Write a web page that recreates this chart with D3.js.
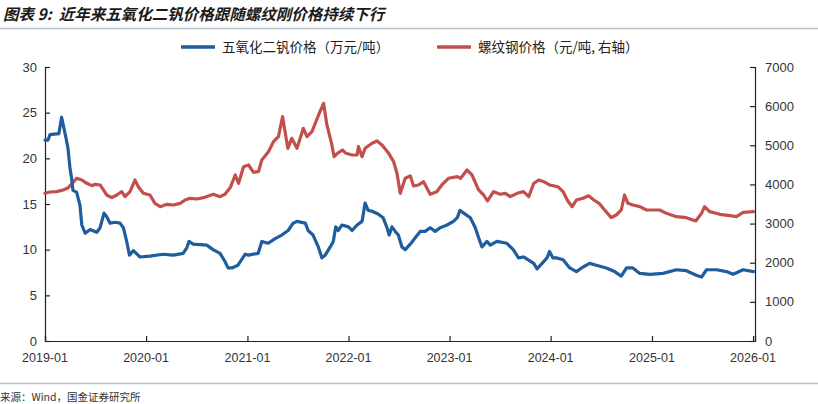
<!DOCTYPE html>
<html><head><meta charset="utf-8">
<script src="https://cdn.jsdelivr.net/npm/d3@7"></script>
<style>
html,body{margin:0;padding:0;background:#fff;}
svg{display:block;}
</style></head>
<body>
<svg id="c" width="818" height="404"></svg>
<script>
// ---- data ----
const titleText = "图表 9:  近年来五氧化二钒价格跟随螺纹刚价格持续下行";
const sourceText = "来源：Wind，国金证券研究所";
const seriesNames = ["五氧化二钒价格（万元/吨）", "螺纹钢价格（元/吨, 右轴）"];
const xTickLabels = ["2019-01","2020-01","2021-01","2022-01","2023-01","2024-01","2025-01","2026-01"];
const leftTicks = [0,5,10,15,20,25,30];
const rightTicks = [0,1000,2000,3000,4000,5000,6000,7000];

const v2o5Dates = ["2019-01-01","2019-01-12","2019-01-19","2019-02-20","2019-03-02","2019-03-18","2019-03-25","2019-04-01","2019-04-07","2019-04-12","2019-04-25","2019-05-07","2019-05-14","2019-05-26","2019-06-13","2019-07-07","2019-07-19","2019-08-02","2019-08-12","2019-08-24","2019-09-11","2019-09-29","2019-10-11","2019-10-23","2019-11-02","2019-11-16","2019-12-10","2020-01-15","2020-03-02","2020-04-08","2020-05-14","2020-05-27","2020-06-04","2020-06-19","2020-08-07","2020-08-30","2020-09-24","2020-10-12","2020-10-23","2020-11-06","2020-11-28","2020-12-24","2021-01-05","2021-02-09","2021-02-22","2021-03-17","2021-04-11","2021-05-05","2021-05-28","2021-06-15","2021-06-29","2021-07-29","2021-08-08","2021-08-26","2021-09-14","2021-09-27","2021-10-09","2021-10-27","2021-11-07","2021-11-16","2021-11-25","2021-12-08","2022-01-01","2022-01-14","2022-02-01","2022-02-19","2022-03-02","2022-03-13","2022-03-27","2022-04-18","2022-05-06","2022-05-20","2022-05-28","2022-06-07","2022-06-19","2022-06-30","2022-07-13","2022-07-25","2022-08-12","2022-08-30","2022-09-17","2022-10-05","2022-10-23","2022-11-10","2022-11-28","2022-12-23","2023-01-15","2023-01-29","2023-02-07","2023-02-21","2023-03-17","2023-04-04","2023-04-16","2023-04-28","2023-05-16","2023-05-28","2023-06-21","2023-07-27","2023-08-19","2023-09-07","2023-09-25","2023-11-01","2023-11-13","2023-12-01","2023-12-19","2023-12-28","2024-01-09","2024-01-22","2024-02-15","2024-03-10","2024-04-03","2024-04-27","2024-05-21","2024-06-14","2024-07-20","2024-08-19","2024-09-12","2024-10-01","2024-10-24","2024-11-18","2024-12-24","2025-02-10","2025-03-30","2025-05-05","2025-06-10","2025-06-29","2025-07-17","2025-08-22","2025-09-27","2025-10-21","2025-11-26","2026-01-03"];
const v2o5Values = [22.0,22.0,22.6,22.7,24.5,22.2,21.1,19.0,17.8,16.5,16.3,14.9,12.7,11.8,12.2,11.9,12.4,14.0,13.6,12.9,13.0,12.9,12.4,10.9,9.4,9.9,9.2,9.3,9.5,9.4,9.6,10.2,10.9,10.6,10.5,10.0,9.6,8.7,8.0,8.0,8.3,9.5,9.4,9.6,10.9,10.7,11.2,11.6,12.1,12.9,13.1,12.9,12.1,11.6,10.3,9.1,9.4,10.3,10.9,12.5,12.1,12.7,12.5,12.1,12.7,13.1,15.1,14.3,14.2,13.9,13.5,12.4,11.6,12.5,12.0,11.6,10.3,10.0,10.6,11.3,12.0,12.0,12.4,12.0,12.4,12.7,13.1,13.5,14.3,14.0,13.5,12.4,11.3,10.3,10.9,10.5,10.9,10.7,10.0,9.1,9.2,8.5,7.9,8.5,9.1,9.8,9.1,9.1,8.9,8.0,7.6,8.1,8.5,8.3,8.0,7.6,7.1,8.0,8.0,7.4,7.3,7.4,7.8,7.7,7.2,7.0,7.8,7.8,7.6,7.3,7.8,7.6];

const rebarDates = ["2019-01-01","2019-01-19","2019-02-12","2019-03-08","2019-03-26","2019-04-13","2019-04-25","2019-05-14","2019-06-01","2019-06-19","2019-07-01","2019-07-19","2019-07-31","2019-08-12","2019-08-30","2019-09-17","2019-10-05","2019-10-17","2019-11-04","2019-11-22","2019-12-04","2019-12-22","2020-01-15","2020-02-02","2020-02-21","2020-03-16","2020-04-09","2020-05-03","2020-05-21","2020-06-08","2020-07-02","2020-07-26","2020-08-31","2020-09-24","2020-10-12","2020-10-31","2020-11-18","2020-11-30","2020-12-18","2021-01-05","2021-01-23","2021-02-10","2021-02-22","2021-03-18","2021-04-05","2021-04-23","2021-05-08","2021-05-17","2021-05-27","2021-06-10","2021-06-29","2021-07-22","2021-08-04","2021-08-22","2021-09-15","2021-10-03","2021-10-15","2021-11-02","2021-11-10","2021-11-22","2021-12-10","2021-12-23","2022-01-14","2022-02-01","2022-02-06","2022-02-19","2022-03-02","2022-03-27","2022-04-14","2022-05-02","2022-05-26","2022-06-13","2022-06-25","2022-07-07","2022-07-25","2022-08-12","2022-08-24","2022-09-11","2022-09-29","2022-10-23","2022-11-16","2022-12-04","2022-12-28","2023-01-29","2023-02-10","2023-03-05","2023-03-23","2023-04-16","2023-05-04","2023-05-18","2023-06-09","2023-07-03","2023-07-21","2023-08-08","2023-09-02","2023-09-25","2023-10-14","2023-11-01","2023-11-19","2023-12-07","2023-12-28","2024-01-27","2024-02-15","2024-03-03","2024-03-19","2024-04-03","2024-04-27","2024-05-17","2024-06-05","2024-06-24","2024-07-14","2024-08-07","2024-08-25","2024-09-12","2024-09-24","2024-10-06","2024-10-24","2024-11-18","2024-12-12","2025-01-05","2025-01-29","2025-02-22","2025-03-30","2025-05-05","2025-06-08","2025-06-29","2025-07-10","2025-07-28","2025-09-03","2025-10-09","2025-11-02","2025-11-26","2026-01-03"];
const rebarValues = [3773,3807,3815,3858,3917,4054,4157,4113,4029,3968,4003,3986,3858,3730,3662,3730,3815,3687,3815,4113,3942,3773,3730,3517,3432,3492,3475,3517,3602,3646,3628,3662,3748,3687,3750,3920,4241,4029,4453,4497,4310,4326,4624,4837,5092,5220,5731,5348,4923,5178,4923,5434,5220,5348,5774,6073,5519,5008,4709,4795,4880,4795,4752,4752,4964,4709,4923,5051,5110,5008,4795,4581,4285,3773,4157,4220,3960,3986,4071,3748,3815,3986,4157,4198,4157,4369,4241,3858,3730,3577,3815,3748,3773,3687,3773,3815,3687,4029,4113,4071,3986,3942,3815,3577,3432,3602,3646,3710,3602,3517,3347,3151,3219,3347,3730,3517,3475,3432,3347,3347,3347,3262,3176,3151,3066,3262,3432,3304,3237,3202,3176,3287,3304];

// ---- layout ----
const W = 818, H = 404;
const m = {left: 45, right: 755, top: 67, bottom: 341};
const blue = "#1f5d9e", red = "#c24f4c";
const cjk = "'Noto Sans CJK SC','Noto Sans',sans-serif";
const latin = "'Liberation Sans',Arial,sans-serif";

const svg = d3.select("#c");
const parse = d3.timeParse("%Y-%m-%d");

const x = d3.scaleTime()
  .domain([parse("2019-01-01"), parse("2026-01-08")])
  .range([m.left, m.right]);
const yL = d3.scaleLinear().domain([0,30]).range([m.bottom, m.top]);
const yR = d3.scaleLinear().domain([0,7000]).range([m.bottom, m.top]);

// title
svg.append("text").attr("x",3).attr("y",20)
  .attr("font-family",cjk).attr("font-size",15.5).attr("font-weight","bold")
  .attr("font-style","italic").attr("fill","#1a1a1a")
  .attr("xml:space","preserve").style("white-space","pre")
  .text(titleText);
svg.append("line").attr("x1",0).attr("x2",W).attr("y1",28.5).attr("y2",28.5)
  .attr("stroke","#b4c2cc").attr("stroke-width",1.5);

// bottom line + source
svg.append("line").attr("x1",0).attr("x2",W).attr("y1",383.5).attr("y2",383.5)
  .attr("stroke","#b4c2cc").attr("stroke-width",1.5);
svg.append("text").attr("x",0).attr("y",401)
  .attr("font-family",cjk).attr("font-size",10.5).attr("fill","#333")
  .text(sourceText);

// legend
const legend = [
  {name: seriesNames[0], color: blue, x1: 181, x2: 215, tx: 222},
  {name: seriesNames[1], color: red, x1: 437, x2: 471, tx: 478}
];
legend.forEach(l => {
  svg.append("line").attr("x1",l.x1).attr("x2",l.x2).attr("y1",47).attr("y2",47)
    .attr("stroke",l.color).attr("stroke-width",3.5);
  svg.append("text").attr("x",l.tx).attr("y",52)
    .attr("font-family",cjk).attr("font-size",13.5).attr("fill","#222")
    .text(l.name);
});

// axes
const axisColor = "#222";
const gL = svg.append("g").attr("transform",`translate(${m.left},0)`)
  .call(d3.axisRight(yL).tickValues(leftTicks).tickSize(5));
gL.selectAll("text").remove();
leftTicks.forEach(t => {
  svg.append("text").attr("x",37).attr("y",yL(t)).attr("dy","0.35em")
    .attr("text-anchor","end").attr("font-family",latin).attr("font-size",13)
    .attr("fill","#333").text(t);
});
const gR = svg.append("g").attr("transform",`translate(${m.right},0)`)
  .call(d3.axisLeft(yR).tickValues(rightTicks).tickSize(5));
gR.selectAll("text").remove();
rightTicks.forEach(t => {
  svg.append("text").attr("x",765).attr("y",yR(t)).attr("dy","0.35em")
    .attr("text-anchor","start").attr("font-family",latin).attr("font-size",13)
    .attr("fill","#333").text(t);
});
const xTickDates = xTickLabels.map(s => parse(s + "-01"));
const gX = svg.append("g").attr("transform",`translate(0,${m.bottom})`)
  .call(d3.axisTop(x).tickValues(xTickDates).tickSize(5));
gX.selectAll("text").remove();
xTickLabels.forEach((s,i) => {
  svg.append("text").attr("x",x(xTickDates[i])).attr("y",362)
    .attr("text-anchor","middle").attr("font-family",latin).attr("font-size",12.5)
    .attr("fill","#333").text(s);
});
[gL,gR,gX].forEach(g => {
  g.select(".domain").attr("stroke",axisColor).attr("stroke-width",1.2);
  g.selectAll(".tick line").attr("stroke",axisColor).attr("stroke-width",1.2);
});

// lines
const v2o5 = v2o5Dates.map((d,i) => ({date: parse(d), value: v2o5Values[i]}));
const rebar = rebarDates.map((d,i) => ({date: parse(d), value: rebarValues[i]}));

svg.append("path").datum(rebar)
  .attr("fill","none").attr("stroke",red).attr("stroke-width",3.2)
  .attr("stroke-linejoin","round").attr("stroke-linecap","round")
  .attr("d", d3.line().x(d => x(d.date)).y(d => yR(d.value)));
svg.append("path").datum(v2o5)
  .attr("fill","none").attr("stroke",blue).attr("stroke-width",3.2)
  .attr("stroke-linejoin","round").attr("stroke-linecap","round")
  .attr("d", d3.line().x(d => x(d.date)).y(d => yL(d.value)));
</script>
</body></html>
